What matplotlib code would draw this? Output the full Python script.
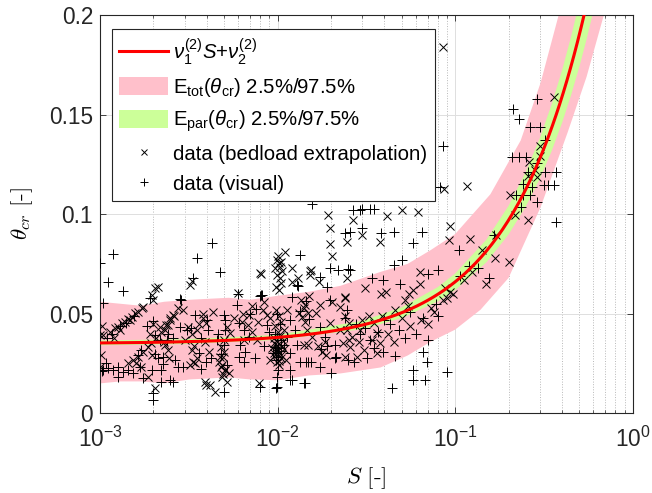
import matplotlib
matplotlib.use("Agg")
import matplotlib.pyplot as plt
import numpy as np
from matplotlib.lines import Line2D
from matplotlib.patches import Patch
from matplotlib.ticker import LogLocator, NullFormatter

plt.rcParams["font.family"] = ["Liberation Sans", "DejaVu Sans"]
plt.rcParams["mathtext.fontset"] = "custom"
plt.rcParams["mathtext.rm"] = "Liberation Sans"
plt.rcParams["mathtext.it"] = "Liberation Sans:italic"
plt.rcParams["mathtext.bf"] = "Liberation Sans:bold"

# fitted linear model theta_cr = nu1 * S + nu2
nu1 = 0.31
nu2 = 0.035

# total uncertainty band (2.5% / 97.5%)
tot_up_s = [1e-3, 1.3e-3, 1.7e-3, 2.3e-3, 3.2e-3, 5.3e-3, 7e-3, 1e-2, 1.5e-2, 2.26e-2,
            3.8e-2, 5.4e-2, 7.3e-2, 0.1, 0.158, 0.234, 0.303, 0.383, 0.48]
tot_up = [0.056, 0.055, 0.054, 0.056, 0.057, 0.058, 0.057, 0.059, 0.061, 0.064,
          0.071, 0.075, 0.082, 0.090, 0.110, 0.137, 0.166, 0.200, 0.240]
tot_lo_s = [1e-3, 1.3e-3, 1.7e-3, 2.3e-3, 3.2e-3, 5.3e-3, 7e-3, 1e-2, 1.5e-2, 2.26e-2,
            3.8e-2, 5.4e-2, 7.3e-2, 0.1, 0.139, 0.2, 0.303, 0.43, 0.55, 0.688, 0.85]
tot_lo = [0.015, 0.016, 0.016, 0.015, 0.017, 0.018, 0.017, 0.0166, 0.019, 0.020,
          0.023, 0.029, 0.036, 0.042, 0.052, 0.068, 0.1035, 0.141, 0.169, 0.200, 0.240]

# parameter uncertainty band (2.5% / 97.5%)
par_s = [1e-3, 3e-3, 1e-2, 3e-2, 5e-2, 0.08, 0.1, 0.15, 0.2, 0.25, 0.3, 0.35,
         0.4, 0.45, 0.5, 0.55, 0.6, 0.7]
par_lo = [0.0341, 0.0347, 0.0368, 0.0422, 0.0478, 0.0562, 0.0618, 0.0758, 0.0898,
          0.1038, 0.1178, 0.1318, 0.1458, 0.1598, 0.1738, 0.1878, 0.2018, 0.2298]
par_up = [0.0366, 0.0372, 0.0394, 0.0464, 0.0532, 0.0634, 0.0702, 0.0872, 0.1042,
          0.1212, 0.1382, 0.1552, 0.1722, 0.1892, 0.2062, 0.2232, 0.2402, 0.2742]

# data (bedload extrapolation): (S, theta_cr)
bed_pts = [
    (1.00e-3, 0.0393), (1.01e-3, 0.0293), (1.00e-3, 0.0234), (1.02e-3, 0.0440),
    (1.044e-3, 0.0393), (1.14e-3, 0.041), (1.215e-3, 0.0427), (1.268e-3, 0.0435),
    (1.326e-3, 0.0452), (1.383e-3, 0.046), (1.444e-3, 0.0472), (1.509e-3, 0.0485),
    (1.575e-3, 0.0503), (1.644e-3, 0.051), (1.718e-3, 0.0528), (1.754e-3, 0.0536),
    (1.20e-3, 0.038), (1.30e-3, 0.042), (1.48e-3, 0.047),
    (1.439e-3, 0.0251), (1.535e-3, 0.0268), (1.637e-3, 0.0284), (1.747e-3, 0.031),
    (1.865e-3, 0.0335), (1.947e-3, 0.0352), (2.078e-3, 0.0377), (2.216e-3, 0.041),
    (2.366e-3, 0.0444), (2.47e-3, 0.0469), (2.58e-3, 0.0494), (2.755e-3, 0.0528),
    (1.96e-3, 0.0594), (2.04e-3, 0.063), (2.13e-3, 0.0636), (2.00e-3, 0.0569),
    (3.22e-3, 0.0645), (3.30e-3, 0.0665), (6.0e-3, 0.0603), (8.1e-3, 0.070),
    (2.03e-3, 0.0126), (1.86e-3, 0.0184), (3.9e-3, 0.0159), (3.97e-3, 0.0142),
    (4.43e-3, 0.0109), (4.15e-3, 0.0142), (7.82e-3, 0.0151),
    (2.17e-3, 0.0435), (2.32e-3, 0.0419), (2.42e-3, 0.0444), (2.47e-3, 0.0477),
    (2.6e-3, 0.0489), (2.93e-3, 0.0519), (3.13e-3, 0.0435), (3.5e-3, 0.0419),
    (3.8e-3, 0.0477), (3.97e-3, 0.0452), (4.33e-3, 0.051), (4.83e-3, 0.0335),
    (4.94e-3, 0.0284), (4.83e-3, 0.0234), (5.04e-3, 0.0218), (3.0e-3, 0.0368),
    (3.28e-3, 0.0318), (3.34e-3, 0.0259), (3.42e-3, 0.0251), (3.2e-3, 0.0243),
    (1.6e-3, 0.0251), (1.71e-3, 0.0234), (1.95e-3, 0.0293), (2.42e-3, 0.0318),
    (2.32e-3, 0.0343),
    (5.65e-3, 0.0477), (5.19e-3, 0.0435), (5.41e-3, 0.0402), (4.96e-3, 0.0368),
    (4.75e-3, 0.0284), (4.85e-3, 0.0243), (5.07e-3, 0.0218), (4.85e-3, 0.0184),
    (5.19e-3, 0.0159),
    (6.3e-3, 0.046), (6.86e-3, 0.0494), (7.16e-3, 0.041), (7.64e-3, 0.0368),
    (6.43e-3, 0.0368), (7.98e-3, 0.0704), (8.33e-3, 0.0519), (8.7e-3, 0.0494),
    (9.09e-3, 0.0477), (9.5e-3, 0.0302), (9.09e-3, 0.0268),
    (9.92e-3, 0.077), (1.013e-2, 0.0754), (1.035e-2, 0.0737), (9.72e-3, 0.0729),
    (1.058e-2, 0.0712), (9.92e-3, 0.0695), (1.026e-2, 0.0678), (1.049e-2, 0.0653),
    (9.83e-3, 0.0636), (1.013e-2, 0.062), (1.0e-2, 0.079), (1.04e-2, 0.076),
    (9.8e-3, 0.052), (1.02e-2, 0.049), (1.05e-2, 0.046), (9.7e-3, 0.044),
    (1.0e-2, 0.041), (1.03e-2, 0.039), (9.9e-3, 0.036), (1.06e-2, 0.034),
    (9.75e-3, 0.032), (1.01e-2, 0.030), (1.04e-2, 0.028), (9.9e-3, 0.026),
    (1.02e-2, 0.024), (9.6e-3, 0.038), (1.08e-2, 0.042),
    (9.3e-3, 0.033), (9.6e-3, 0.029), (1.0e-2, 0.0315), (1.05e-2, 0.0295),
    (1.09e-2, 0.0325), (9.5e-3, 0.0355), (1.07e-2, 0.0365), (1.11e-2, 0.027),
    (9.9e-3, 0.0345), (1.02e-2, 0.0265),
    (1.1e-2, 0.0812), (1.2e-2, 0.0729), (1.53e-2, 0.0712), (1.53e-2, 0.0695),
    (2.03e-2, 0.0561), (2.4e-2, 0.0586), (2.26e-2, 0.0536), (1.98e-2, 0.0452),
    (2.26e-2, 0.0419), (2.52e-2, 0.0368), (1.4e-2, 0.0528), (1.43e-2, 0.046),
    (1.46e-2, 0.0419), (1.57e-2, 0.0385), (1.4e-2, 0.0343), (1.49e-2, 0.0343),
    (1.13e-2, 0.0519), (1.32e-2, 0.0503), (1.74e-2, 0.0544), (1.65e-2, 0.0503),
    (1.2e-2, 0.066), (1.3e-2, 0.068),
    (1.36e-2, 0.057), (1.42e-2, 0.0545), (1.48e-2, 0.0505), (1.38e-2, 0.0485),
    (1.51e-2, 0.059), (1.7e-2, 0.034), (1.78e-2, 0.031), (1.85e-2, 0.036),
    (1.88e-2, 0.0295),
    (6.4e-3, 0.050), (7.2e-3, 0.054), (7.8e-3, 0.046), (8.4e-3, 0.056),
    (6.8e-3, 0.0445), (3.3e-3, 0.040), (3.6e-3, 0.045), (3.9e-3, 0.036),
    (4.1e-3, 0.031), (3.5e-3, 0.028), (3.8e-3, 0.050), (3.4e-3, 0.034),
    (4.7e-3, 0.026), (5.0e-3, 0.031), (5.3e-3, 0.020), (4.9e-3, 0.0195),
    (2.0e-3, 0.045), (2.3e-3, 0.036), (2.45e-3, 0.028), (1.9e-3, 0.040),
    (1.93e-2, 0.0995), (1.98e-2, 0.093), (1.98e-2, 0.085), (2.03e-2, 0.079),
    (2.67e-2, 0.097), (2.45e-2, 0.086), (2.45e-2, 0.068), (1.55e-2, 0.072),
    (1.72e-2, 0.066),
    (2.41e-2, 0.0486), (2.52e-2, 0.0452), (2.46e-2, 0.0419), (2.63e-2, 0.0385),
    (2.35e-2, 0.0352), (2.57e-2, 0.0335), (2.86e-2, 0.036), (2.93e-2, 0.0419),
    (2.99e-2, 0.0469), (3.26e-2, 0.0486), (3.48e-2, 0.0452), (3.64e-2, 0.0402),
    (3.4e-2, 0.0368), (3.79e-2, 0.0352), (3.06e-2, 0.0318), (2.8e-2, 0.0284),
    (3.64e-2, 0.0302), (3.88e-2, 0.0486), (2.41e-2, 0.0284),
    (3.0e-2, 0.0895), (3.78e-2, 0.086), (4.15e-2, 0.099), (5.0e-2, 0.102),
    (6.2e-2, 0.101), (3.1e-2, 0.063), (3.8e-2, 0.060), (2.4e-2, 0.058),
    (4.6e-2, 0.052), (5.0e-2, 0.048), (5.4e-2, 0.054), (5.6e-2, 0.044),
    (6.4e-2, 0.047), (7.3e-2, 0.053), (7.6e-2, 0.051), (4.2e-2, 0.040),
    (4.5e-2, 0.036), (5.5e-2, 0.060), (5.8e-2, 0.062), (5.2e-2, 0.057),
    (6.3e-2, 0.071), (6.3e-2, 0.065), (4.1e-2, 0.061), (8.5e-2, 0.057),
    (9.4e-2, 0.061), (9.0e-2, 0.058), (9.7e-2, 0.060), (8.8e-2, 0.063),
    (7.0e-2, 0.045),
    (8.5e-2, 0.184), (0.36, 0.159), (0.30, 0.129), (0.256, 0.119), (0.288, 0.1185),
    (0.26, 0.126), (0.203, 0.1095), (0.216, 0.0995), (0.256, 0.097), (8.6e-2, 0.1125),
    (0.117, 0.114), (9.4e-2, 0.094), (0.17, 0.0895), (0.122, 0.0875), (9.2e-2, 0.087),
    (0.142, 0.082), (0.168, 0.078), (0.20, 0.076), (0.125, 0.071), (0.15, 0.065),
    (0.112, 0.067), (0.30, 0.134), (0.28, 0.122),
]

# data (visual): (S, theta_cr)
vis_pts = [
    (1.0e-3, 0.0755), (1.19e-3, 0.080), (1.11e-3, 0.066), (1.35e-3, 0.0614),
    (1.04e-3, 0.0554), (1.91e-3, 0.058), (4.26e-3, 0.0855), (3.51e-3, 0.078),
    (4.75e-3, 0.071), (3.36e-3, 0.068), (2.83e-3, 0.0574), (6.0e-3, 0.060),
    (8.1e-3, 0.0594), (2.87e-3, 0.0569),
    (1.04e-3, 0.0218), (1.11e-3, 0.0226), (1.18e-3, 0.0218), (1.26e-3, 0.0184),
    (1.35e-3, 0.0209), (1.44e-3, 0.0218), (1.535e-3, 0.0201), (1.67e-3, 0.0234),
    (1.75e-3, 0.0176), (1.26e-3, 0.0234), (1.08e-3, 0.025), (1.02e-3, 0.021),
    (1.99e-3, 0.0102), (1.99e-3, 0.0067), (2.2e-3, 0.0159), (2.58e-3, 0.0159),
    (2.48e-3, 0.0167), (4.96e-3, 0.0109), (8.0e-3, 0.0134), (9.8e-3, 0.0126),
    (1.40e-2, 0.0151), (1.18e-2, 0.0167), (9.92e-3, 0.0184), (9.92e-3, 0.0134),
    (1.30e-3, 0.044), (1.40e-3, 0.0455), (1.55e-3, 0.049), (1.17e-3, 0.040),
    (1.10e-3, 0.038),
    (2.12e-3, 0.0276), (2.26e-3, 0.0284), (2.21e-3, 0.0218), (1.71e-3, 0.0318),
    (1.64e-3, 0.0293), (2.03e-3, 0.0393), (2.17e-3, 0.0368), (2.37e-3, 0.0368),
    (2.58e-3, 0.0377), (2.82e-3, 0.0435), (3.07e-3, 0.0419), (2.76e-3, 0.0234),
    (2.93e-3, 0.0234), (2.64e-3, 0.0268), (3.42e-3, 0.0494), (4.06e-3, 0.0419),
    (4.53e-3, 0.0368), (5.04e-3, 0.0469), (5.04e-3, 0.0419), (4.96e-3, 0.0494),
    (5.9e-3, 0.0544), (6.03e-3, 0.0452), (6.43e-3, 0.0419), (6.86e-3, 0.0385),
    (6.16e-3, 0.0343), (6.57e-3, 0.031), (6.03e-3, 0.0284), (6.43e-3, 0.0259),
    (8.15e-3, 0.0594), (8.7e-3, 0.0444), (8.9e-3, 0.041), (7.5e-3, 0.028),
    (8.4e-3, 0.034), (3.7e-3, 0.022), (4.2e-3, 0.028), (2.0e-3, 0.0465),
    (1.85e-3, 0.044),
    (3.25e-3, 0.043), (3.7e-3, 0.038), (4.0e-3, 0.047), (3.6e-3, 0.0305),
    (3.95e-3, 0.026), (4.8e-3, 0.030), (5.2e-3, 0.024), (5.0e-3, 0.0345),
    (4.6e-3, 0.040), (2.05e-3, 0.030), (2.25e-3, 0.0245), (2.4e-3, 0.040),
    (1.95e-3, 0.0215), (7.0e-3, 0.050), (7.6e-3, 0.0525),
    (9.9e-3, 0.050), (1.03e-2, 0.045), (9.7e-3, 0.040), (1.05e-2, 0.037),
    (1.0e-2, 0.033), (1.01e-2, 0.0215), (9.8e-3, 0.027),
    (9.4e-3, 0.0305), (1.0e-2, 0.0285), (1.08e-2, 0.0345), (9.7e-3, 0.0335),
    (1.04e-2, 0.0315),
    (1.2e-2, 0.0586), (1.29e-2, 0.0645), (1.34e-2, 0.0796), (1.74e-2, 0.0686),
    (1.9e-2, 0.0636), (1.98e-2, 0.0569), (2.46e-2, 0.0519), (2.4e-2, 0.0477),
    (1.74e-2, 0.0435), (1.84e-2, 0.0385), (2.1e-2, 0.0343), (1.18e-2, 0.0469),
    (1.26e-2, 0.0419), (1.13e-2, 0.0385), (1.29e-2, 0.0343), (1.18e-2, 0.0302),
    (1.2e-2, 0.0167), (1.43e-2, 0.0151), (1.74e-2, 0.0234), (2.0e-2, 0.0201),
    (2.14e-2, 0.0284), (1.34e-2, 0.0259), (1.49e-2, 0.0259),
    (1.45e-2, 0.0565), (1.33e-2, 0.0515), (1.5e-2, 0.0475), (1.75e-2, 0.0325),
    (1.9e-2, 0.034), (1.3e-2, 0.064), (8.0e-3, 0.059), (1.18e-2, 0.0218),
    (1.45e-2, 0.026), (1.55e-2, 0.026), (2.1e-2, 0.028),
    (1.56e-2, 0.105), (2.67e-2, 0.102), (2.93e-2, 0.102), (2.57e-2, 0.091),
    (2.4e-2, 0.0905), (1.98e-2, 0.073), (2.2e-2, 0.072), (2.57e-2, 0.072),
    (3.0e-2, 0.1025), (3.3e-2, 0.1025), (3.5e-2, 0.1025), (3.0e-2, 0.093),
    (3.8e-2, 0.0905), (4.5e-2, 0.091), (6.5e-2, 0.091), (5.8e-2, 0.0855),
    (5.0e-2, 0.077), (4.5e-2, 0.0745), (2.5e-2, 0.0725), (4.9e-2, 0.065),
    (3.9e-2, 0.067), (3.4e-2, 0.068), (7.0e-2, 0.070), (8.0e-2, 0.072),
    (2.75e-2, 0.045), (2.9e-2, 0.040), (3.1e-2, 0.043), (3.3e-2, 0.037),
    (3.5e-2, 0.033), (3.2e-2, 0.028), (2.7e-2, 0.0255), (2.5e-2, 0.027),
    (3.9e-2, 0.031), (3.7e-2, 0.041), (4.3e-2, 0.045), (4.8e-2, 0.042),
    (5.2e-2, 0.038), (4.0e-2, 0.047), (4.6e-2, 0.029), (6.0e-2, 0.040),
    (6.6e-2, 0.048), (7.0e-2, 0.037), (6.6e-2, 0.031), (6.9e-2, 0.0256),
    (5.8e-2, 0.0216), (5.8e-2, 0.0166), (6.8e-2, 0.0166), (4.4e-2, 0.0126),
    (9.0e-2, 0.0206), (8.0e-2, 0.049), (5.6e-2, 0.051), (7.8e-2, 0.055),
    (0.288, 0.158), (0.212, 0.153), (0.23, 0.148), (0.265, 0.144), (0.30, 0.144),
    (0.32, 0.137), (8.5e-2, 0.134), (0.21, 0.1285), (0.23, 0.1285), (0.25, 0.1285),
    (0.288, 0.1255), (0.256, 0.121), (0.32, 0.121), (0.37, 0.121), (0.315, 0.1145),
    (0.335, 0.1145), (0.36, 0.1145), (0.27, 0.1135), (8.2e-2, 0.1135), (0.22, 0.1095),
    (0.24, 0.1095), (0.265, 0.1095), (0.288, 0.106), (0.234, 0.1035), (0.37, 0.096),
    (0.105, 0.082), (0.119, 0.074), (0.135, 0.073), (0.155, 0.068), (0.107, 0.069),
    (0.165, 0.0895), (0.24, 0.115),
]

PINK = "#ffc0cb"
GREEN = "#ccff99"
INK = "#262626"

fig = plt.figure(figsize=(6.52, 4.93), dpi=100)
ax = fig.add_axes([0.1534, 0.1617, 0.8170, 0.8079])
ax.set_xscale("log")

# uncertainty bands as closed polygons
ax.fill(tot_up_s + tot_lo_s[::-1], tot_up + tot_lo[::-1], color=PINK, lw=0, zorder=1)
ax.fill(par_s + par_s[::-1], par_up + par_lo[::-1], color=GREEN, lw=0, zorder=2)

bed = np.array(bed_pts)
vis = np.array(vis_pts)
ax.plot(bed[:, 0], bed[:, 1], "x", color="k", ms=6, mew=0.7, ls="none", zorder=3)
ax.plot(vis[:, 0], vis[:, 1], "+", color="k", ms=6.5, mew=0.7, ls="none", zorder=3)

s_line = np.logspace(-3, 0, 300)
ax.plot(s_line, nu1 * s_line + nu2, color="red", lw=2.2, zorder=4)

ax.set_xlim(1e-3, 1)
ax.set_ylim(0, 0.2)
ax.set_yticks([0, 0.05, 0.1, 0.15, 0.2])
ax.set_yticklabels(["0", "0.05", "0.1", "0.15", "0.2"])
ax.xaxis.set_minor_locator(LogLocator(base=10, subs=np.arange(2, 10)))
ax.xaxis.set_minor_formatter(NullFormatter())

ax.set_axisbelow(True)
ax.grid(which="major", color="#dedede", lw=0.7)
ax.grid(which="minor", axis="x", color="#b8b8b8", ls=":", lw=0.7)

ax.tick_params(which="both", direction="in", top=True, right=True, colors=INK,
               labelsize=16.3)
ax.tick_params(which="major", length=4.5, width=0.6)
ax.tick_params(which="minor", length=2.5, width=0.5)
ax.tick_params(axis="x", pad=10)
ax.tick_params(axis="y", pad=5)
for sp in ax.spines.values():
    sp.set_color(INK)
    sp.set_linewidth(0.8)

ax.set_xlabel(r"$S\ [\text{-}]$", fontsize=16.5, color="k", math_fontfamily="cm")
ax.set_ylabel(r"$\theta_{cr}\ [\text{-}]$", fontsize=16.5, color="k", math_fontfamily="cm")
ax.xaxis.set_label_coords(0.5, -0.13)
ax.yaxis.set_label_coords(-0.122, 0.5)

handles = [
    Line2D([], [], color="red", lw=2.2),
    Patch(facecolor=PINK, edgecolor="none"),
    Patch(facecolor=GREEN, edgecolor="none"),
    Line2D([], [], marker="x", color="k", ms=5, mew=0.7, ls="none"),
    Line2D([], [], marker="+", color="k", ms=6, mew=0.7, ls="none"),
]
labels = [
    r"$\nu_1^{(2)}S$+$\nu_2^{(2)}$",
    r"E$_{\rm tot}$($\theta_{\rm cr}$) 2.5%/97.5%",
    r"E$_{\rm par}$($\theta_{\rm cr}$) 2.5%/97.5%",
    "data (bedload extrapolation)",
    "data (visual)",
]
leg = ax.legend(handles, labels, loc="upper left", bbox_to_anchor=(0.0225, 0.965),
                borderaxespad=0, fontsize=14.7, frameon=True, fancybox=False,
                edgecolor=INK, framealpha=1, handlelength=2.4, handletextpad=0.25,
                borderpad=0.35, labelspacing=0.47, handleheight=1.0)
leg.get_frame().set_linewidth(0.8)
leg.set_zorder(10)

fig.savefig("out.png", dpi=100)
